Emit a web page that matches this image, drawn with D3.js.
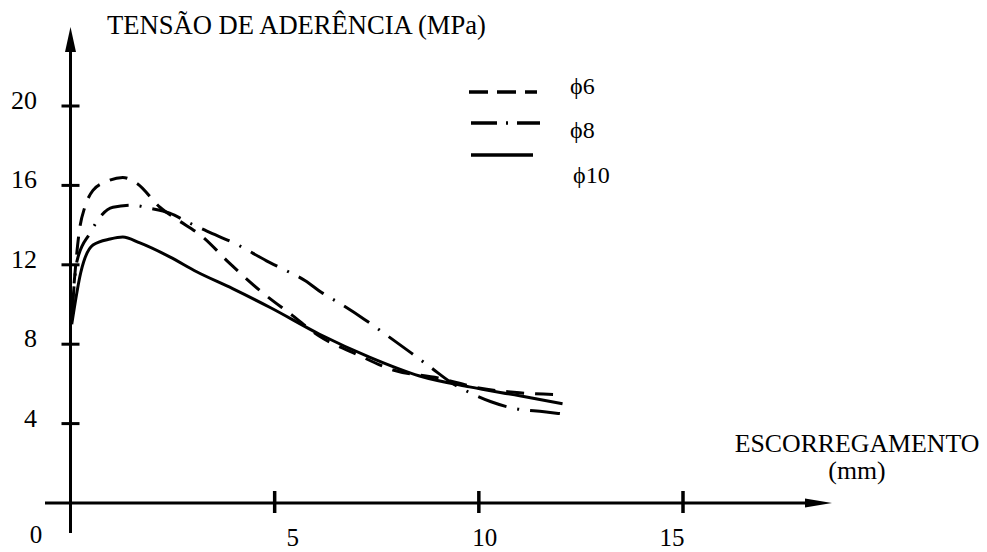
<!DOCTYPE html>
<html>
<head>
<meta charset="utf-8">
<script src="https://cdn.jsdelivr.net/npm/d3@7"></script>
<style>
	html, body { margin: 0; padding: 0; background: #fff; }
	svg { display: block; }
	text { font-family: "Liberation Serif", "Times New Roman", serif; fill: #000; }
</style>
</head>
<body>
<svg id="chart" width="987" height="552"></svg>
<script>
// slip (mm) / bond stress (MPa)
var phi6 = [
	[0.03, 9.6], [0.23, 13.9], [0.35, 14.9], [0.55, 15.75], [0.89, 16.2], [1.28, 16.4],
	[1.63, 16.1], [2.19, 14.9], [2.6, 14.3], [3.24, 13.4], [3.9, 12.07], [4.7, 10.6],
	[5.44, 9.44], [6.1, 8.4], [7.0, 7.5], [7.9, 6.7], [9.0, 6.3], [10.0, 5.8],
	[11.0, 5.55], [12.0, 5.45]
];
var phi8 = [
	[0.03, 9.4], [0.16, 12.2], [0.48, 13.6], [0.72, 14.4], [1.04, 14.9], [1.53, 15.0],
	[1.94, 14.85], [2.43, 14.6], [2.92, 14.1], [3.34, 13.7], [4.1, 13.0], [4.8, 12.2],
	[5.29, 11.7], [5.75, 11.2], [6.15, 10.6], [6.6, 10.05], [7.2, 9.25], [7.76, 8.43],
	[8.35, 7.55], [8.84, 6.8], [9.3, 6.1], [9.84, 5.5], [10.3, 5.1], [10.9, 4.75],
	[11.6, 4.6], [12.0, 4.5]
];
var phi10 = [
	[0.03, 9.0], [0.25, 11.6], [0.55, 13.0], [0.97, 13.3], [1.28, 13.4], [1.7, 13.1],
	[2.43, 12.4], [3.09, 11.65], [3.97, 10.8], [4.89, 9.85], [6.1, 8.5], [7.32, 7.35],
	[8.55, 6.4], [9.77, 5.85], [11.0, 5.4], [12.05, 5.0]
];
var seriesNames = ['\u03D56', '\u03D58', '\u03D510'];
var xTicks = [5, 10, 15];
var yTicks = [4, 8, 12, 16, 20];
var yTitle = 'TENS\u00C3O DE ADER\u00CANCIA (MPa)';
var xTitle = ['ESCORREGAMENTO', '(mm)'];

var svg = d3.select('#chart');

var x = d3.scaleLinear().domain([0, 15]).range([70.5, 683]),
	y = d3.scaleLinear().domain([0, 20]).range([503, 106]);

var styles = [
	{ dash: '18,11', legendDash: '19,9' },
	{ dash: '30,11,2,11', legendDash: '26,9,2,9' },
	{ dash: null, legendDash: null }
];

//axes
var g = svg.append('g').attr('stroke', '#000').attr('stroke-width', 3);
g.append('line')
	.attr('x1', x(0)).attr('y1', 533)
	.attr('x2', x(0)).attr('y2', 45);
g.append('line')
	.attr('x1', 45).attr('y1', y(0))
	.attr('x2', 810).attr('y2', y(0));

// arrow heads
svg.append('path')
	.attr('d', 'M' + x(0) + ',27 L' + (x(0) - 5.5) + ',52 L' + (x(0) + 5.5) + ',52 Z')
	.attr('fill', '#000');
svg.append('path')
	.attr('d', 'M832,' + y(0) + ' L805,' + (y(0) - 4.5) + ' L805,' + (y(0) + 4.5) + ' Z')
	.attr('fill', '#000');

g.selectAll('.yt').data(yTicks).enter().append('line')
	.attr('x1', x(0) - 9).attr('x2', x(0) + 9)
	.attr('y1', function(d){ return y(d); })
	.attr('y2', function(d){ return y(d); });
g.selectAll('.xt').data(xTicks).enter().append('line')
	.attr('stroke-width', 3.5)
	.attr('x1', function(d){ return x(d); })
	.attr('x2', function(d){ return x(d); })
	.attr('y1', y(0) - 12).attr('y2', y(0) + 10);

svg.selectAll('.yl').data(yTicks).enter().append('text')
	.attr('x', 37)
	.attr('y', function(d){ return y(d) + 3; })
	.attr('text-anchor', 'end')
	.attr('font-size', 26)
	.text(function(d){ return d; });

// hand placed labels in the original sit a bit off their ticks
var xLabelNudge = [18, 6, -11];
svg.selectAll('.xl').data(xTicks).enter().append('text')
	.attr('x', function(d, i){ return x(d) + xLabelNudge[i]; })
	.attr('y', 546)
	.attr('text-anchor', 'middle')
	.attr('font-size', 25)
	.text(function(d){ return d; });
svg.append('text')
	.attr('x', 36).attr('y', 543)
	.attr('text-anchor', 'middle')
	.attr('font-size', 25)
	.text('0');

svg.append('text')
	.attr('x', 107).attr('y', 34)
	.attr('font-size', 26.6)
	.text(yTitle);
svg.append('text')
	.attr('x', 857).attr('y', 452)
	.attr('text-anchor', 'middle')
	.attr('font-size', 25.8)
	.text(xTitle[0]);
svg.append('text')
	.attr('x', 857).attr('y', 479)
	.attr('text-anchor', 'middle')
	.attr('font-size', 25.8)
	.text(xTitle[1]);

//curves
var line = d3.line()
	.x(function(d){ return x(d[0]); })
	.y(function(d){ return y(d[1]); })
	.curve(d3.curveMonotoneX);

[phi6, phi8, phi10].forEach(function(s, i){
	var p = svg.append('path')
		.attr('d', line(s))
		.attr('fill', 'none')
		.attr('stroke', '#000')
		.attr('stroke-width', 3)
		.attr('stroke-linejoin', 'round');
	if(styles[i].dash) p.attr('stroke-dasharray', styles[i].dash);
});

//legend
var legendY = [92, 123, 155],
	legendTextY = [94, 138, 183],
	legendTextX = [570, 570, 573],
	legendX1 = [469, 471, 471],
	legendX2 = [537, 540, 533];
seriesNames.forEach(function(n, i){
	var l = svg.append('line')
		.attr('x1', legendX1[i]).attr('x2', legendX2[i])
		.attr('y1', legendY[i]).attr('y2', legendY[i])
		.attr('stroke', '#000')
		.attr('stroke-width', 3.5);
	if(styles[i].legendDash) l.attr('stroke-dasharray', styles[i].legendDash);
	svg.append('text')
		.attr('x', legendTextX[i]).attr('y', legendTextY[i])
		.attr('font-size', 24)
		.text(n);
});
</script>
</body>
</html>
